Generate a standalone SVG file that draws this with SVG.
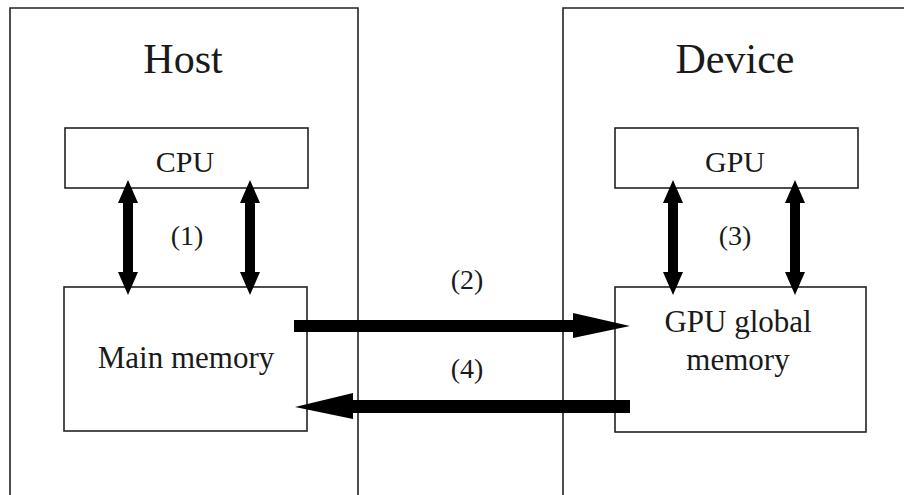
<svg xmlns="http://www.w3.org/2000/svg" width="904" height="495" viewBox="0 0 904 495">
<style>
.frame{fill:none;stroke:#222;stroke-width:1.6}
.box{fill:#fff;stroke:#222;stroke-width:1.6}
.t{font-family:'Liberation Serif','Times New Roman','DejaVu Serif',serif;fill:#1a1a1a;text-anchor:middle}
.big{font-size:42px}
.mid{font-size:30px}
.mem{font-size:31px}
.num{font-size:28px}
.arr{fill:#000}
</style>
<rect width="904" height="495" fill="#fff"/>
<g id="host">
<path class="frame" d="M10,500 V8 H358 V500"/>
<text class="t big" x="183" y="73">Host</text>
</g>
<g id="device">
<path class="frame" d="M563,500 V8 H910"/>
<text class="t big" x="735" y="73">Device</text>
</g>
<g id="cpu">
<rect class="box" x="65" y="128" width="243" height="60"/>
<text class="t mid" x="185" y="172">CPU</text>
</g>
<g id="gpu">
<rect class="box" x="615" y="128" width="243" height="60"/>
<text class="t mid" x="735" y="172">GPU</text>
</g>
<g id="main-memory">
<rect class="box" x="64" y="287" width="243" height="144"/>
<text class="t mem" x="186" y="368">Main memory</text>
</g>
<g id="gpu-memory">
<rect class="box" x="615" y="287" width="251" height="145"/>
<text class="t mem" x="738" y="332">GPU global</text>
<text class="t mem" x="738" y="370">memory</text>
</g>
<g id="connectors">
<polygon class="arr" points="128,180 138,203 133,203 133,272 138,272 128,295 118,272 123,272 123,203 118,203"/>
<polygon class="arr" points="250,180 260,203 255,203 255,272 260,272 250,295 240,272 245,272 245,203 240,203"/>
<polygon class="arr" points="673,180 683,203 678,203 678,272 683,272 673,295 663,272 668,272 668,203 663,203"/>
<polygon class="arr" points="795,180 805,203 800,203 800,272 805,272 795,295 785,272 790,272 790,203 785,203"/>
<polygon class="arr" points="294,320 573,320 573,313 630,326 573,338 573,332 294,332"/>
<polygon class="arr" points="630,400 353,400 353,393 295,407 353,419 353,413 630,413"/>
<text class="t num" x="187" y="245">(1)</text>
<text class="t num" x="467" y="289">(2)</text>
<text class="t num" x="735" y="245">(3)</text>
<text class="t num" x="467" y="378">(4)</text>
</g>
</svg>
